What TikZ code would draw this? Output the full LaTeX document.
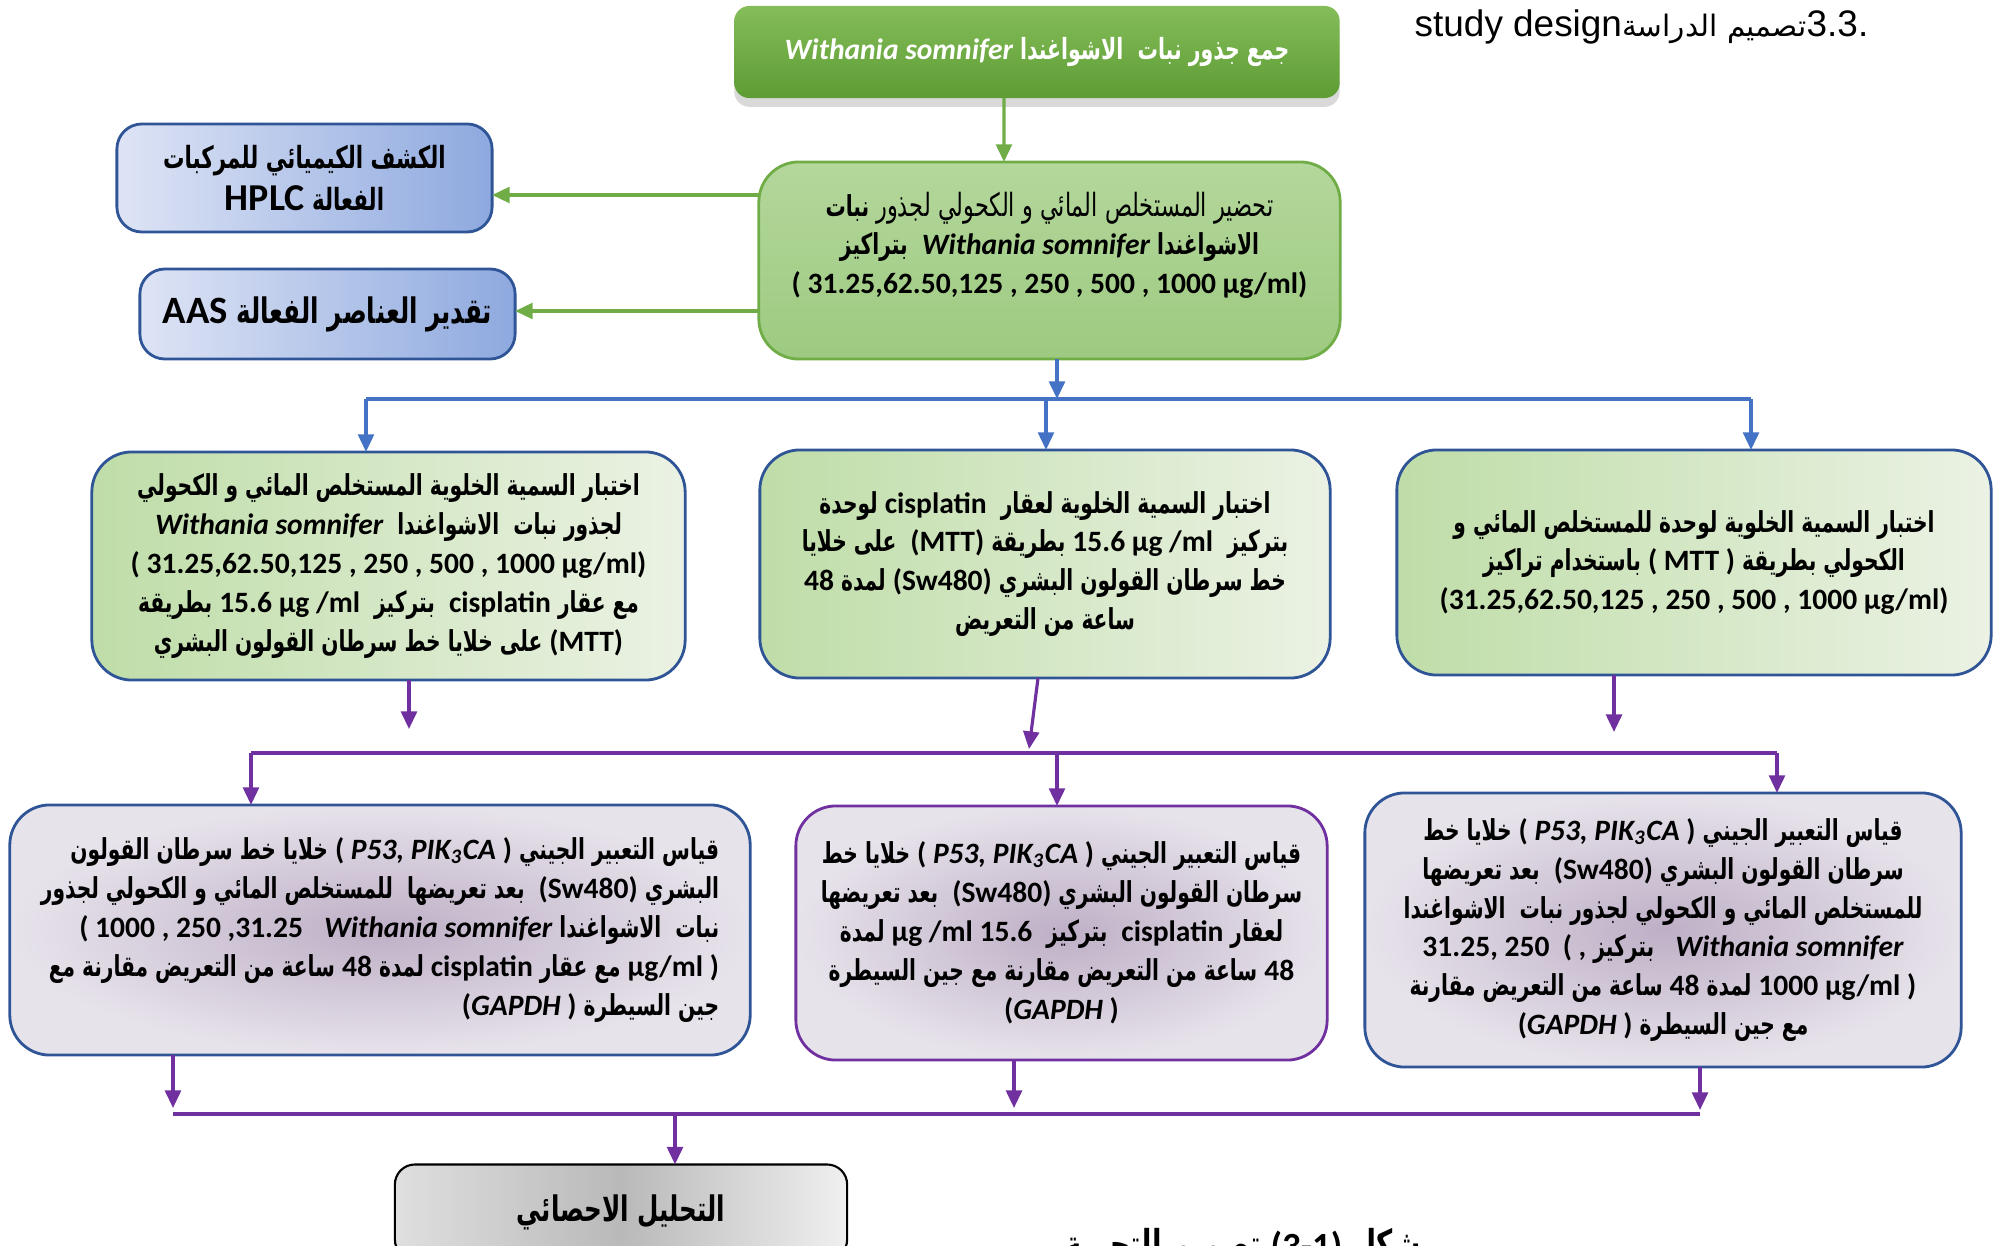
\documentclass[tikz,border=0pt]{standalone}
\usepackage{fontspec}
\usetikzlibrary{arrows.meta,shadows}
\setmainfont{Carlito}
\newfontfamily\arabicfont[Script=Arabic,FakeStretch=0.7]{DejaVu Sans}
\newfontfamily\titlefont{Liberation Sans}
\newfontfamily\titlearabic[Script=Arabic]{DejaVu Sans}
\TeXXeTstate=1

\definecolor{grnTop}{HTML}{84BD5A}
\definecolor{grnBot}{HTML}{5E9C34}
\definecolor{grnLine}{HTML}{70AD47}
\definecolor{prepTop}{HTML}{B4D79C}
\definecolor{prepBot}{HTML}{9DCA80}
\definecolor{midL}{HTML}{BFDDA8}
\definecolor{midR}{HTML}{EBF2E4}
\definecolor{navy}{HTML}{2F5597}
\definecolor{bluL}{HTML}{DEE4F5}
\definecolor{bluR}{HTML}{8EA9DF}
\definecolor{busblue}{HTML}{4472C4}
\definecolor{purp}{HTML}{7030A0}
\definecolor{lilacIn}{HTML}{BEAFC6}
\definecolor{lilacOut}{HTML}{E7E3EB}

\newcommand{\eng}[1]{\beginL{\normalfont\bfseries\fontsize{8.4}{11}\selectfont #1}\endL}
\newcommand{\engi}[1]{\beginL{\normalfont\bfseries\itshape\fontsize{8.4}{11}\selectfont #1}\endL}

\begin{document}
\begin{tikzpicture}[x=0.01cm,y=-0.01cm,
    >={Triangle[length=5pt,width=4.5pt]},
    box/.style={rounded corners=0.4cm,inner sep=0pt,outer sep=0pt,align=center,
      line width=0.8pt,font=\arabicfont\bfseries\fontsize{8.2}{11.06}\selectfont},
    greenbox/.style={box,draw=navy,left color=midL,right color=midR},
    lilacbox/.style={box,draw=navy,inner color=lilacIn,outer color=lilacOut},
    bluebox/.style={box,rounded corners=0.25cm,draw=navy,left color=bluL,right color=bluR},
    garrow/.style={grnLine,line width=0.9pt},
    barrow/.style={busblue,line width=0.9pt},
    parrow/.style={purp,line width=0.9pt}]
  \clip (0,0) rectangle (1997,1246);

  % title
  \node[anchor=west,inner sep=0pt,font=\titlefont\fontsize{10.5}{12}\selectfont] (title) at (1414,27)
    {study design\beginR{\titlearabic\fontsize{8.4}{12}\selectfont تصميم الدراسة}\endR 3.3.};

  % plant and extract
  \node[box,rounded corners=0.15cm,top color=grnTop,bottom color=grnBot,text=white,
    minimum width=6.05cm,minimum height=0.92cm,
    drop shadow={shadow xshift=0pt,shadow yshift=-2.5pt,opacity=0.3},
    font=\arabicfont\bfseries\fontsize{8.3}{11}\selectfont] (collect) at (1037,52)
    {\beginR جمع جذور نبات \ الاشواغندا \engi{Withania somnifer}\endR};
  \node[box,draw=grnLine,top color=prepTop,bottom color=prepBot,
    minimum width=5.81cm,minimum height=1.97cm] (prep) at (1049.5,260.5)
    {\beginR{\mdseries\fontsize{9.1}{11}\selectfont تحضير المستخلص المائي و الكحولي لجذور} نبات\endR\\
     \beginR الاشواغندا \engi{Withania somnifer} \ بتراكيز\endR\\
     \eng{( 31.25,62.50,125 , 250 , 500 , 1000 µg/ml)}\\[-1pt]\mbox{}};
  \node[bluebox,minimum width=3.75cm,minimum height=1.08cm,
    font=\arabicfont\bfseries\fontsize{8.7}{11.8}\selectfont] (hplc) at (304.5,178)
    {\beginR الكشف الكيميائي للمركبات\endR\\\beginR الفعالة \eng{\fontsize{10.8}{12}\selectfont HPLC}\endR};
  \node[bluebox,minimum width=3.75cm,minimum height=0.90cm,
    font=\arabicfont\bfseries\fontsize{10}{13}\selectfont] (aas) at (327.5,314)
    {\beginR تقدير العناصر الفعالة \eng{\fontsize{11}{13}\selectfont AAS}\endR};

  % cytotoxicity
  \node[greenbox,minimum width=5.93cm,minimum height=2.28cm] (midleft) at (388.5,566)
    {\beginR اختبار السمية الخلوية المستخلص المائي و الكحولي\endR\\
     \beginR لجذور نبات \ الاشواغندا \ \engi{Withania somnifer}\endR\\
     \eng{( 31.25,62.50,125 , 250 , 500 , 1000 µg/ml)}\\
     \beginR مع عقار \eng{cisplatin} \ بتركيز \ \eng{15.6 µg /ml} بطريقة\endR\\
     \beginR\eng{(MTT)} على خلايا خط سرطان القولون البشري\endR};
  \node[greenbox,minimum width=5.70cm,minimum height=2.28cm] (midcenter) at (1045,564)
    {\beginR اختبار السمية الخلوية لعقار \ \eng{cisplatin} لوحدة\endR\\
     \beginR بتركيز \ \eng{15.6 µg /ml} بطريقة \eng{(MTT)} \ على خلايا\endR\\
     \beginR خط سرطان القولون البشري \eng{(Sw480)} لمدة \eng{48}\endR\\
     \beginR ساعة من التعريض\endR};
  \node[greenbox,minimum width=5.94cm,minimum height=2.25cm] (midright) at (1694,562.5)
    {\beginR اختبار السمية الخلوية لوحدة للمستخلص المائي و\endR\\
     \beginR الكحولي بطريقة \eng{( MTT )} باستخدام تراكيز\endR\\
     \eng{(31.25,62.50,125 , 250 , 500 , 1000 µg/ml)}};

  % gene expression
  \node[lilacbox,minimum width=7.40cm,minimum height=2.50cm,align=right] (lowleft) at (380,930)
    {\beginR قياس التعبير الجيني \eng{( \textit{P53, PIK\textsubscript{3}CA} )} خلايا خط سرطان القولون\endR\\
     \beginR البشري \eng{(Sw480)} \ بعد تعريضها \ للمستخلص المائي و الكحولي لجذور\endR\\
     \beginR نبات \ الاشواغندا \engi{Withania somnifer} \ \ \eng{( 1000 , 250 ,31.25}\endR\\
     \beginR\eng{µg/ml )} مع عقار \eng{cisplatin} لمدة \eng{48} ساعة من التعريض مقارنة مع\endR\\
     \beginR جين السيطرة \eng{(\textit{GAPDH} )}\endR};
  \node[lilacbox,draw=purp,minimum width=5.31cm,minimum height=2.54cm] (lowcenter) at (1061.5,933)
    {\beginR قياس التعبير الجيني \eng{( \textit{P53, PIK\textsubscript{3}CA} )} خلايا خط\endR\\
     \beginR سرطان القولون البشري \eng{(Sw480)} \ بعد تعريضها\endR\\
     \beginR لعقار \eng{cisplatin} \ بتركيز \ \eng{µg /ml 15.6} لمدة\endR\\
     \beginR\eng{48} ساعة من التعريض مقارنة مع جين السيطرة\endR\\
     \eng{(\textit{GAPDH} )}};
  \node[lilacbox,minimum width=5.96cm,minimum height=2.74cm] (lowright) at (1663,930)
    {\beginR قياس التعبير الجيني \eng{( \textit{P53, PIK\textsubscript{3}CA} )} خلايا خط\endR\\
     \beginR سرطان القولون البشري \eng{(Sw480)} \ بعد تعريضها\endR\\
     \beginR للمستخلص المائي و الكحولي لجذور نبات \ الاشواغندا\endR\\
     \beginR\engi{Withania somnifer} \ \ بتركيز \eng{31.25, 250 \ ( ,}\endR\\
     \beginR\eng{1000 µg/ml )} لمدة \eng{48} ساعة من التعريض مقارنة\endR\\
     \beginR مع جين السيطرة \eng{(\textit{GAPDH} )}\endR};

  % statistics
  \node[box,rounded corners=0.2cm,draw=black,line width=0.6pt,left color=gray!25,right color=gray!12,
    middle color=gray!55,minimum width=4.52cm,minimum height=0.95cm,
    font=\arabicfont\bfseries\fontsize{10}{13}\selectfont] (stats) at (621,1212)
    {\beginR التحليل الاحصائي\endR};
  \node[anchor=base,font=\arabicfont\bfseries\fontsize{11.3}{13}\selectfont] (caption) at (1243,1258)
    {\beginR شكل \eng{\fontsize{10.5}{13}\selectfont(3-1)} تصميم التجربة\endR};

  % green links
  \coordinate (g1) at (0,195);
  \coordinate (g2) at (0,311);
  \draw[garrow,->] ([xshift=-0.33cm]collect.south) -- ([xshift=-0.455cm]prep.north);
  \draw[garrow,->] (prep.west |- g1) -- (hplc.east |- g1);
  \draw[garrow,->] (prep.west |- g2) -- (aas.east |- g2);

  % blue bus
  \coordinate (bbus) at (1057,399);
  \coordinate (bleft) at (366,399);
  \coordinate (bmid) at (1046,399);
  \coordinate (bright) at (1751,399);
  \draw[barrow,->] (prep.south -| bbus) -- (bbus);
  \draw[barrow] (bleft) -- (bright);
  \draw[barrow,->] (bleft) -- (bleft |- midleft.north);
  \draw[barrow,->] (bmid) -- (bmid |- midcenter.north);
  \draw[barrow,->] (bright) -- (bright |- midright.north);

  % purple bus
  \coordinate (p1) at (409,729);
  \coordinate (p2) at (1029,749);
  \coordinate (p3) at (1614,732);
  \draw[parrow,->] (midleft.south -| p1) -- (p1);
  \draw[parrow,->] ([xshift=-0.07cm]midcenter.south) -- (p2);
  \draw[parrow,->] (midright.south -| p3) -- (p3);
  \coordinate (pl) at (251,753);
  \coordinate (pm) at (1057,753);
  \coordinate (pr) at (1777,753);
  \draw[parrow] (pl) -- (pr);
  \draw[parrow,->] (pl) -- (pl |- lowleft.north);
  \draw[parrow,->] (pm) -- (pm |- lowcenter.north);
  \draw[parrow,->] (pr) -- (pr |- lowright.north);

  % to statistics
  \coordinate (q1) at (173,1108);
  \coordinate (q2) at (1014,1108);
  \coordinate (q3) at (1700,1110);
  \draw[parrow,->] (lowleft.south -| q1) -- (q1);
  \draw[parrow,->] (lowcenter.south -| q2) -- (q2);
  \draw[parrow,->] (lowright.south -| q3) -- (q3);
  \coordinate (ql) at (173,1114);
  \coordinate (qr) at (1700,1114);
  \coordinate (qs) at (675,1114);
  \draw[parrow] (ql) -- (qr);
  \draw[parrow,->] (qs) -- (qs |- stats.north);
\end{tikzpicture}
\end{document}
